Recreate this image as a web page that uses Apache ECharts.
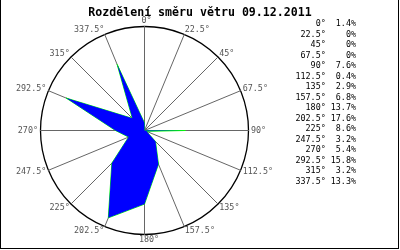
<!DOCTYPE html>
<html>
<head>
<meta charset="utf-8">
<script src="https://cdn.jsdelivr.net/npm/echarts@6/dist/echarts.min.js"></script>
<style>
html,body{margin:0;padding:0;background:#fff;}
#c{width:400px;height:250px;}
</style>
</head>
<body>
<div id="c"></div>
<script>
const chartTitle = 'Rozdělení směru větru 09.12.2011';
const directions = ['0°','22.5°','45°','67.5°','90°','112.5°','135°','157.5°','180°','202.5°','225°','247.5°','270°','292.5°','315°','337.5°'];
const angles = [0,22.5,45,67.5,90,112.5,135,157.5,180,202.5,225,247.5,270,292.5,315,337.5];
const shares = [1.4,0,0,0,7.6,0.4,2.9,6.8,13.7,17.6,8.6,3.2,5.4,15.8,3.2,13.3];

const FONT = 'DejaVu Sans Mono';
const maxShare = Math.max(...shares) * 1.1;

// radar runs counter-clockwise, compass runs clockwise -> reorder
const order = [0].concat(angles.map((a, i) => i).slice(1).reverse());
const indicators = order.map(i => ({ name: directions[i], max: maxShare, min: 0 }));
const radarValues = order.map(i => shares[i]);

// per-label nudges (style only), derived from each direction's angle
const rich = {};
angles.forEach((a, i) => {
  const r = a * Math.PI / 180;
  const s = Math.sin(r), c = Math.cos(r);
  let pad = [0, 0, 0, 0];
  if (Math.abs(s) < 0.01) {
    pad = c > 0 ? [0, 0, 2, 4] : [1, 0, 0, 9];
  } else {
    const dy = -5 * c;
    const g = Math.max(0, 2.5 * s * s);
    if (dy < 0) pad[2] = -2 * dy; else pad[0] = 2 * dy;
    if (s > 0) pad[3] = g; else pad[1] = g;
  }
  rich['k' + i] = { padding: pad, fontFamily: FONT, fontSize: 8.4, color: '#555' };
});

function fmt(v) { return v === 0 ? '0%' : v.toFixed(1) + '%'; }
const tableText = directions.map((d, i) => d.padStart(6) + ' ' + fmt(shares[i]).padStart(5)).join('\n');

const chart = echarts.init(document.getElementById('c'), null, { renderer: 'canvas' });
chart.setOption({
  animation: false,
  backgroundColor: '#fff',
  title: {
    text: chartTitle,
    left: 'center',
    top: 2,
    textStyle: { fontFamily: FONT, fontWeight: 'bold', fontSize: 11.6, color: '#000' }
  },
  radar: {
    center: [144.5, 130.5],
    radius: 104,
    startAngle: 90,
    shape: 'circle',
    splitNumber: 1,
    nameGap: 0,
    indicator: indicators,
    axisName: {
      color: '#555',
      fontFamily: FONT,
      fontSize: 8.4,
      formatter: function (name) {
        const i = directions.indexOf(name);
        return '{k' + i + '|' + name + '}';
      },
      rich: rich
    },
    axisLine: { lineStyle: { color: '#666', width: 1 } },
    splitLine: { lineStyle: { color: '#000', width: 1.3 } },
    splitArea: { show: false },
    axisTick: { show: false },
    axisLabel: { show: false }
  },
  graphic: [
    {
      type: 'text',
      style: {
        text: tableText,
        x: 356, y: 19,
        textAlign: 'right',
        textVerticalAlign: 'top',
        font: '8.4px "' + FONT + '"',
        lineHeight: 10.5,
        fill: '#000'
      }
    },
    { type: 'line', shape: { x1: 0.5, y1: 0, x2: 0.5, y2: 249 }, style: { stroke: '#000', lineWidth: 1 } },
    { type: 'line', shape: { x1: 398.5, y1: 0, x2: 398.5, y2: 249 }, style: { stroke: '#000', lineWidth: 1 } },
    { type: 'line', shape: { x1: 0, y1: 248.5, x2: 399, y2: 248.5 }, style: { stroke: '#000', lineWidth: 1 } }
  ],
  series: [
    {
      type: 'radar',
      symbol: 'none',
      silent: true,
      z: 2,
      lineStyle: { color: '#00ff00', width: 1 },
      data: [{ value: radarValues }]
    },
    {
      type: 'radar',
      symbol: 'none',
      silent: true,
      z: 3,
      lineStyle: { width: 0, opacity: 0 },
      areaStyle: { color: '#0000ff', opacity: 1 },
      data: [{ value: radarValues }]
    }
  ]
});
</script>
</body>
</html>
